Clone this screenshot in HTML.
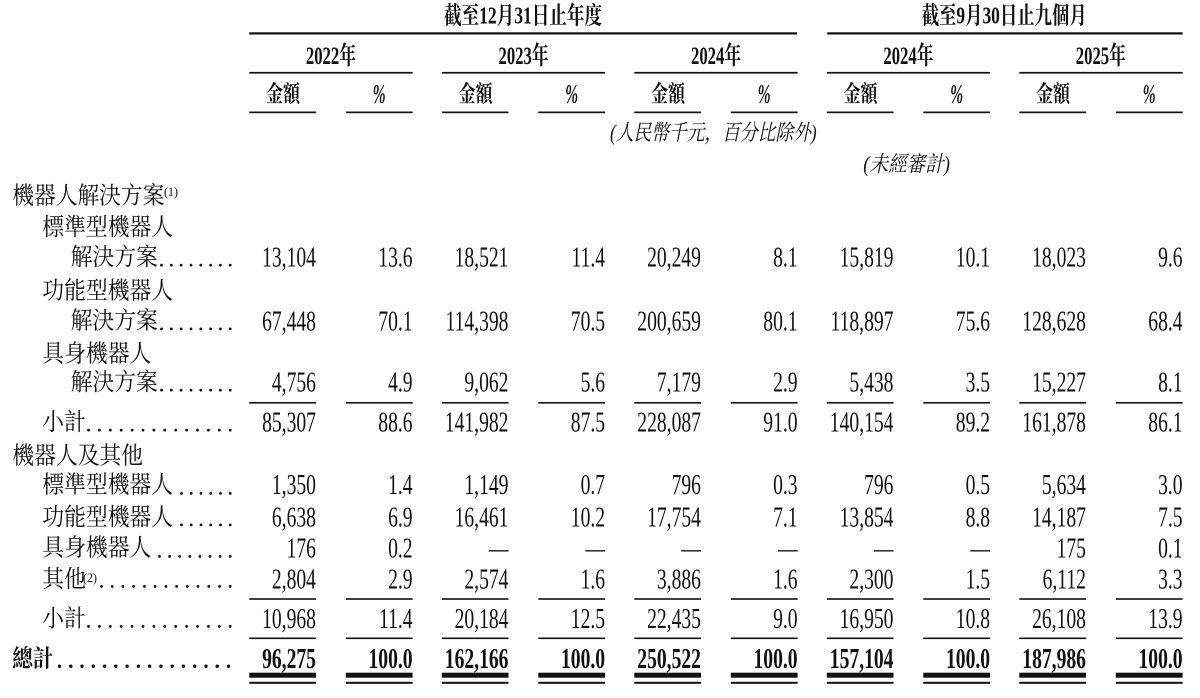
<!DOCTYPE html>
<html>
<head>
<meta charset="utf-8">
<style>
html,body{margin:0;padding:0;background:#fff;}
svg{display:block;}
.cjk{font-family:"Liberation Serif","Noto Serif CJK SC",serif;}
</style>
</head>
<body>
<svg width="1200" height="698" viewBox="0 0 1200 698" xmlns="http://www.w3.org/2000/svg" fill="#111">
<!-- Header lines -->
<rect x="249.3" y="32.3" width="547.7" height="2.2"/>
<rect x="827.3" y="32.3" width="355.3" height="2.2"/>
<g>
<rect x="249.3" y="71.9" width="163.3" height="1.7"/>
<rect x="441.8" y="71.9" width="163.3" height="1.7"/>
<rect x="634.3" y="71.9" width="163.3" height="1.7"/>
<rect x="826.8" y="71.9" width="163.3" height="1.7"/>
<rect x="1019.3" y="71.9" width="163.3" height="1.7"/>
</g>
<g>
<rect x="249.3" y="111.5" width="66.7" height="1.7"/><rect x="345.8" y="111.5" width="66.8" height="1.7"/>
<rect x="441.8" y="111.5" width="66.7" height="1.7"/><rect x="538.3" y="111.5" width="66.8" height="1.7"/>
<rect x="634.3" y="111.5" width="66.7" height="1.7"/><rect x="730.8" y="111.5" width="66.8" height="1.7"/>
<rect x="826.8" y="111.5" width="66.7" height="1.7"/><rect x="923.3" y="111.5" width="66.8" height="1.7"/>
<rect x="1019.3" y="111.5" width="66.7" height="1.7"/><rect x="1115.8" y="111.5" width="66.8" height="1.7"/>
</g>

<!-- Header text -->
<g class="cjk" font-weight="700" font-size="24">
<text x="444" y="23.5" textLength="158" lengthAdjust="spacingAndGlyphs">截至12月31日止年度</text>
<text x="921.7" y="23.5" textLength="165" lengthAdjust="spacingAndGlyphs">截至9月30日止九個月</text>
</g>
<g class="cjk" font-weight="700" font-size="25">
<text x="305.9" y="64" textLength="50" lengthAdjust="spacingAndGlyphs">2022年</text>
<text x="498.5" y="64" textLength="50" lengthAdjust="spacingAndGlyphs">2023年</text>
<text x="691" y="64" textLength="50" lengthAdjust="spacingAndGlyphs">2024年</text>
<text x="883.4" y="64" textLength="50" lengthAdjust="spacingAndGlyphs">2024年</text>
<text x="1075.8" y="64" textLength="50" lengthAdjust="spacingAndGlyphs">2025年</text>
</g>
<g class="cjk" font-weight="700" font-size="23">
<text x="266" y="101.5" textLength="34" lengthAdjust="spacingAndGlyphs">金額</text>
<text x="458.5" y="101.5" textLength="34" lengthAdjust="spacingAndGlyphs">金額</text>
<text x="651" y="101.5" textLength="34" lengthAdjust="spacingAndGlyphs">金額</text>
<text x="843.5" y="101.5" textLength="34" lengthAdjust="spacingAndGlyphs">金額</text>
<text x="1036" y="101.5" textLength="34" lengthAdjust="spacingAndGlyphs">金額</text>
</g>
<g font-family="'Liberation Serif',serif" font-weight="700" font-size="27" font-style="italic">
<text x="372.6" y="103" textLength="13" lengthAdjust="spacingAndGlyphs">%</text>
<text x="565.1" y="103" textLength="13" lengthAdjust="spacingAndGlyphs">%</text>
<text x="757.6" y="103" textLength="13" lengthAdjust="spacingAndGlyphs">%</text>
<text x="950.1" y="103" textLength="13" lengthAdjust="spacingAndGlyphs">%</text>
<text x="1142.6" y="103" textLength="13" lengthAdjust="spacingAndGlyphs">%</text>
</g>
<g class="cjk" font-style="italic" font-size="22">
<text x="610" y="140" textLength="206.7" lengthAdjust="spacingAndGlyphs">(人民幣千元，百分比除外)</text>
<text x="863.3" y="171.5" textLength="86.7" lengthAdjust="spacingAndGlyphs">(未經審計)</text>
</g>

<!-- Row labels -->
<g class="cjk" font-size="24">
<text x="12.3" y="203.3" textLength="152" lengthAdjust="spacingAndGlyphs">機器人解決方案</text>
<text x="42.3" y="235" textLength="130.8" lengthAdjust="spacingAndGlyphs">標準型機器人</text>
<text x="70.6" y="265.2" textLength="87.2" lengthAdjust="spacingAndGlyphs">解決方案</text>
<text x="42.3" y="298.3" textLength="130.8" lengthAdjust="spacingAndGlyphs">功能型機器人</text>
<text x="70.6" y="328.5" textLength="87.2" lengthAdjust="spacingAndGlyphs">解決方案</text>
<text x="42.3" y="361.3" textLength="109" lengthAdjust="spacingAndGlyphs">具身機器人</text>
<text x="70.6" y="390.2" textLength="87.2" lengthAdjust="spacingAndGlyphs">解決方案</text>
<text x="42.3" y="430.2" textLength="43.6" lengthAdjust="spacingAndGlyphs">小計</text>
<text x="12.3" y="463.3" textLength="130.8" lengthAdjust="spacingAndGlyphs">機器人及其他</text>
<text x="42.3" y="492.5" textLength="130.8" lengthAdjust="spacingAndGlyphs">標準型機器人</text>
<text x="42.3" y="525" textLength="130.8" lengthAdjust="spacingAndGlyphs">功能型機器人</text>
<text x="42.3" y="555.5" textLength="109" lengthAdjust="spacingAndGlyphs">具身機器人</text>
<text x="42.3" y="587" textLength="43.6" lengthAdjust="spacingAndGlyphs">其他</text>
<text x="42.3" y="626.5" textLength="43.6" lengthAdjust="spacingAndGlyphs">小計</text>
<text x="12.3" y="666.5" textLength="41" lengthAdjust="spacingAndGlyphs" font-weight="700">總計</text>
</g>
<g font-family="'Liberation Serif',serif" font-size="13">
<text x="164" y="196" textLength="14" lengthAdjust="spacingAndGlyphs">(1)</text>
<text x="83" y="582" textLength="14" lengthAdjust="spacingAndGlyphs">(2)</text>
</g>

<!-- Leader dots -->
<g id="dots">
<g>
<circle cx="161.5" cy="265.1" r="1.4"/><circle cx="171.3" cy="265.1" r="1.4"/><circle cx="181.1" cy="265.1" r="1.4"/><circle cx="191" cy="265.1" r="1.4"/><circle cx="200.8" cy="265.1" r="1.4"/><circle cx="210.6" cy="265.1" r="1.4"/><circle cx="220.4" cy="265.1" r="1.4"/><circle cx="230.2" cy="265.1" r="1.4"/>
</g>
<g>
<circle cx="161.5" cy="328.9" r="1.4"/><circle cx="171.3" cy="328.9" r="1.4"/><circle cx="181.1" cy="328.9" r="1.4"/><circle cx="191" cy="328.9" r="1.4"/><circle cx="200.8" cy="328.9" r="1.4"/><circle cx="210.6" cy="328.9" r="1.4"/><circle cx="220.4" cy="328.9" r="1.4"/><circle cx="230.2" cy="328.9" r="1.4"/>
</g>
<g>
<circle cx="161.5" cy="390.1" r="1.4"/><circle cx="171.3" cy="390.1" r="1.4"/><circle cx="181.1" cy="390.1" r="1.4"/><circle cx="191" cy="390.1" r="1.4"/><circle cx="200.8" cy="390.1" r="1.4"/><circle cx="210.6" cy="390.1" r="1.4"/><circle cx="220.4" cy="390.1" r="1.4"/><circle cx="230.2" cy="390.1" r="1.4"/>
</g>
<g>
<circle cx="88.5" cy="430.1" r="1.4"/><circle cx="99.4" cy="430.1" r="1.4"/><circle cx="110.3" cy="430.1" r="1.4"/><circle cx="121.2" cy="430.1" r="1.4"/><circle cx="132.1" cy="430.1" r="1.4"/><circle cx="143" cy="430.1" r="1.4"/><circle cx="153.9" cy="430.1" r="1.4"/><circle cx="164.8" cy="430.1" r="1.4"/><circle cx="175.7" cy="430.1" r="1.4"/><circle cx="186.6" cy="430.1" r="1.4"/><circle cx="197.5" cy="430.1" r="1.4"/><circle cx="208.4" cy="430.1" r="1.4"/><circle cx="219.3" cy="430.1" r="1.4"/><circle cx="230.2" cy="430.1" r="1.4"/>
</g>
<g>
<circle cx="181.5" cy="493.4" r="1.4"/><circle cx="191.2" cy="493.4" r="1.4"/><circle cx="201" cy="493.4" r="1.4"/><circle cx="210.7" cy="493.4" r="1.4"/><circle cx="220.5" cy="493.4" r="1.4"/><circle cx="230.2" cy="493.4" r="1.4"/>
</g>
<g>
<circle cx="181.5" cy="524.9" r="1.4"/><circle cx="191.2" cy="524.9" r="1.4"/><circle cx="201" cy="524.9" r="1.4"/><circle cx="210.7" cy="524.9" r="1.4"/><circle cx="220.5" cy="524.9" r="1.4"/><circle cx="230.2" cy="524.9" r="1.4"/>
</g>
<g>
<circle cx="159.5" cy="556.4" r="1.4"/><circle cx="169.6" cy="556.4" r="1.4"/><circle cx="179.7" cy="556.4" r="1.4"/><circle cx="189.8" cy="556.4" r="1.4"/><circle cx="199.9" cy="556.4" r="1.4"/><circle cx="210" cy="556.4" r="1.4"/><circle cx="220.1" cy="556.4" r="1.4"/><circle cx="230.2" cy="556.4" r="1.4"/>
</g>
<g>
<circle cx="101.5" cy="586.4" r="1.4"/><circle cx="112.2" cy="586.4" r="1.4"/><circle cx="122.9" cy="586.4" r="1.4"/><circle cx="133.7" cy="586.4" r="1.4"/><circle cx="144.4" cy="586.4" r="1.4"/><circle cx="155.1" cy="586.4" r="1.4"/><circle cx="165.9" cy="586.4" r="1.4"/><circle cx="176.6" cy="586.4" r="1.4"/><circle cx="187.3" cy="586.4" r="1.4"/><circle cx="198" cy="586.4" r="1.4"/><circle cx="208.8" cy="586.4" r="1.4"/><circle cx="219.5" cy="586.4" r="1.4"/><circle cx="230.2" cy="586.4" r="1.4"/>
</g>
<g>
<circle cx="88.5" cy="626.4" r="1.4"/><circle cx="99.4" cy="626.4" r="1.4"/><circle cx="110.3" cy="626.4" r="1.4"/><circle cx="121.2" cy="626.4" r="1.4"/><circle cx="132.1" cy="626.4" r="1.4"/><circle cx="143" cy="626.4" r="1.4"/><circle cx="153.9" cy="626.4" r="1.4"/><circle cx="164.8" cy="626.4" r="1.4"/><circle cx="175.7" cy="626.4" r="1.4"/><circle cx="186.6" cy="626.4" r="1.4"/><circle cx="197.5" cy="626.4" r="1.4"/><circle cx="208.4" cy="626.4" r="1.4"/><circle cx="219.3" cy="626.4" r="1.4"/><circle cx="230.2" cy="626.4" r="1.4"/>
</g>
<g>
<circle cx="59.5" cy="666.2" r="1.7"/><circle cx="70.8" cy="666.2" r="1.7"/><circle cx="82.0" cy="666.2" r="1.7"/><circle cx="93.3" cy="666.2" r="1.7"/><circle cx="104.6" cy="666.2" r="1.7"/><circle cx="115.8" cy="666.2" r="1.7"/><circle cx="127.1" cy="666.2" r="1.7"/><circle cx="138.4" cy="666.2" r="1.7"/><circle cx="149.6" cy="666.2" r="1.7"/><circle cx="160.9" cy="666.2" r="1.7"/><circle cx="172.2" cy="666.2" r="1.7"/><circle cx="183.4" cy="666.2" r="1.7"/><circle cx="194.7" cy="666.2" r="1.7"/><circle cx="206" cy="666.2" r="1.7"/><circle cx="217.2" cy="666.2" r="1.7"/><circle cx="228.5" cy="666.2" r="1.7"/>
</g>
</g>

<!-- Numbers (condensed serif) -->
<g transform="scale(0.7,1)" font-family="'Liberation Serif',serif" font-size="28" text-anchor="end">
<text x="451.4" y="266.7">13,104</text><text x="589.4" y="266.7">13.6</text>
<text x="726.4" y="266.7">18,521</text><text x="864.4" y="266.7">11.4</text>
<text x="1001.4" y="266.7">20,249</text><text x="1139.4" y="266.7">8.1</text>
<text x="1276.4" y="266.7">15,819</text><text x="1414.4" y="266.7">10.1</text>
<text x="1551.4" y="266.7">18,023</text><text x="1689.4" y="266.7">9.6</text>

<text x="451.4" y="330.3">67,448</text><text x="589.4" y="330.3">70.1</text>
<text x="726.4" y="330.3">114,398</text><text x="864.4" y="330.3">70.5</text>
<text x="1001.4" y="330.3">200,659</text><text x="1139.4" y="330.3">80.1</text>
<text x="1276.4" y="330.3">118,897</text><text x="1414.4" y="330.3">75.6</text>
<text x="1551.4" y="330.3">128,628</text><text x="1689.4" y="330.3">68.4</text>

<text x="451.4" y="391.7">4,756</text><text x="589.4" y="391.7">4.9</text>
<text x="726.4" y="391.7">9,062</text><text x="864.4" y="391.7">5.6</text>
<text x="1001.4" y="391.7">7,179</text><text x="1139.4" y="391.7">2.9</text>
<text x="1276.4" y="391.7">5,438</text><text x="1414.4" y="391.7">3.5</text>
<text x="1551.4" y="391.7">15,227</text><text x="1689.4" y="391.7">8.1</text>

<text x="451.4" y="431.7">85,307</text><text x="589.4" y="431.7">88.6</text>
<text x="726.4" y="431.7">141,982</text><text x="864.4" y="431.7">87.5</text>
<text x="1001.4" y="431.7">228,087</text><text x="1139.4" y="431.7">91.0</text>
<text x="1276.4" y="431.7">140,154</text><text x="1414.4" y="431.7">89.2</text>
<text x="1551.4" y="431.7">161,878</text><text x="1689.4" y="431.7">86.1</text>

<text x="451.4" y="494.2">1,350</text><text x="589.4" y="494.2">1.4</text>
<text x="726.4" y="494.2">1,149</text><text x="864.4" y="494.2">0.7</text>
<text x="1001.4" y="494.2">796</text><text x="1139.4" y="494.2">0.3</text>
<text x="1276.4" y="494.2">796</text><text x="1414.4" y="494.2">0.5</text>
<text x="1551.4" y="494.2">5,634</text><text x="1689.4" y="494.2">3.0</text>

<text x="451.4" y="526.5">6,638</text><text x="589.4" y="526.5">6.9</text>
<text x="726.4" y="526.5">16,461</text><text x="864.4" y="526.5">10.2</text>
<text x="1001.4" y="526.5">17,754</text><text x="1139.4" y="526.5">7.1</text>
<text x="1276.4" y="526.5">13,854</text><text x="1414.4" y="526.5">8.8</text>
<text x="1551.4" y="526.5">14,187</text><text x="1689.4" y="526.5">7.5</text>

<text x="451.4" y="557.3">176</text><text x="589.4" y="557.3">0.2</text>
<text x="726.4" y="557.3">—</text><text x="864.4" y="557.3">—</text>
<text x="1001.4" y="557.3">—</text><text x="1139.4" y="557.3">—</text>
<text x="1276.4" y="557.3">—</text><text x="1414.4" y="557.3">—</text>
<text x="1551.4" y="557.3">175</text><text x="1689.4" y="557.3">0.1</text>

<text x="451.4" y="588.5">2,804</text><text x="589.4" y="588.5">2.9</text>
<text x="726.4" y="588.5">2,574</text><text x="864.4" y="588.5">1.6</text>
<text x="1001.4" y="588.5">3,886</text><text x="1139.4" y="588.5">1.6</text>
<text x="1276.4" y="588.5">2,300</text><text x="1414.4" y="588.5">1.5</text>
<text x="1551.4" y="588.5">6,112</text><text x="1689.4" y="588.5">3.3</text>

<text x="451.4" y="628">10,968</text><text x="589.4" y="628">11.4</text>
<text x="726.4" y="628">20,184</text><text x="864.4" y="628">12.5</text>
<text x="1001.4" y="628">22,435</text><text x="1139.4" y="628">9.0</text>
<text x="1276.4" y="628">16,950</text><text x="1414.4" y="628">10.8</text>
<text x="1551.4" y="628">26,108</text><text x="1689.4" y="628">13.9</text>

<g font-weight="700">
<text x="451.4" y="668">96,275</text><text x="589.4" y="668">100.0</text>
<text x="726.4" y="668">162,166</text><text x="864.4" y="668">100.0</text>
<text x="1001.4" y="668">250,522</text><text x="1139.4" y="668">100.0</text>
<text x="1276.4" y="668">157,104</text><text x="1414.4" y="668">100.0</text>
<text x="1551.4" y="668">187,986</text><text x="1689.4" y="668">100.0</text>
</g>
</g>

<!-- Column rules in body -->
<g>
<rect x="249.3" y="402" width="66.7" height="1.6"/><rect x="345.8" y="402" width="66.8" height="1.6"/>
<rect x="441.8" y="402" width="66.7" height="1.6"/><rect x="538.3" y="402" width="66.8" height="1.6"/>
<rect x="634.3" y="402" width="66.7" height="1.6"/><rect x="730.8" y="402" width="66.8" height="1.6"/>
<rect x="826.8" y="402" width="66.7" height="1.6"/><rect x="923.3" y="402" width="66.8" height="1.6"/>
<rect x="1019.3" y="402" width="66.7" height="1.6"/><rect x="1115.8" y="402" width="66.8" height="1.6"/>
</g>
<g>
<rect x="249.3" y="598.2" width="66.7" height="1.6"/><rect x="345.8" y="598.2" width="66.8" height="1.6"/>
<rect x="441.8" y="598.2" width="66.7" height="1.6"/><rect x="538.3" y="598.2" width="66.8" height="1.6"/>
<rect x="634.3" y="598.2" width="66.7" height="1.6"/><rect x="730.8" y="598.2" width="66.8" height="1.6"/>
<rect x="826.8" y="598.2" width="66.7" height="1.6"/><rect x="923.3" y="598.2" width="66.8" height="1.6"/>
<rect x="1019.3" y="598.2" width="66.7" height="1.6"/><rect x="1115.8" y="598.2" width="66.8" height="1.6"/>
</g>
<g>
<rect x="249.3" y="637.5" width="66.7" height="1.6"/><rect x="345.8" y="637.5" width="66.8" height="1.6"/>
<rect x="441.8" y="637.5" width="66.7" height="1.6"/><rect x="538.3" y="637.5" width="66.8" height="1.6"/>
<rect x="634.3" y="637.5" width="66.7" height="1.6"/><rect x="730.8" y="637.5" width="66.8" height="1.6"/>
<rect x="826.8" y="637.5" width="66.7" height="1.6"/><rect x="923.3" y="637.5" width="66.8" height="1.6"/>
<rect x="1019.3" y="637.5" width="66.7" height="1.6"/><rect x="1115.8" y="637.5" width="66.8" height="1.6"/>
</g>
<!-- Double rules under total -->
<g>
<rect x="249.3" y="672.7" width="66.7" height="5"/><rect x="345.8" y="672.7" width="66.8" height="5"/>
<rect x="441.8" y="672.7" width="66.7" height="5"/><rect x="538.3" y="672.7" width="66.8" height="5"/>
<rect x="634.3" y="672.7" width="66.7" height="5"/><rect x="730.8" y="672.7" width="66.8" height="5"/>
<rect x="826.8" y="672.7" width="66.7" height="5"/><rect x="923.3" y="672.7" width="66.8" height="5"/>
<rect x="1019.3" y="672.7" width="66.7" height="5"/><rect x="1115.8" y="672.7" width="66.8" height="5"/>
<rect x="249.3" y="681.8" width="66.7" height="2"/><rect x="345.8" y="681.8" width="66.8" height="2"/>
<rect x="441.8" y="681.8" width="66.7" height="2"/><rect x="538.3" y="681.8" width="66.8" height="2"/>
<rect x="634.3" y="681.8" width="66.7" height="2"/><rect x="730.8" y="681.8" width="66.8" height="2"/>
<rect x="826.8" y="681.8" width="66.7" height="2"/><rect x="923.3" y="681.8" width="66.8" height="2"/>
<rect x="1019.3" y="681.8" width="66.7" height="2"/><rect x="1115.8" y="681.8" width="66.8" height="2"/>
</g>
</svg>
</body>
</html>
